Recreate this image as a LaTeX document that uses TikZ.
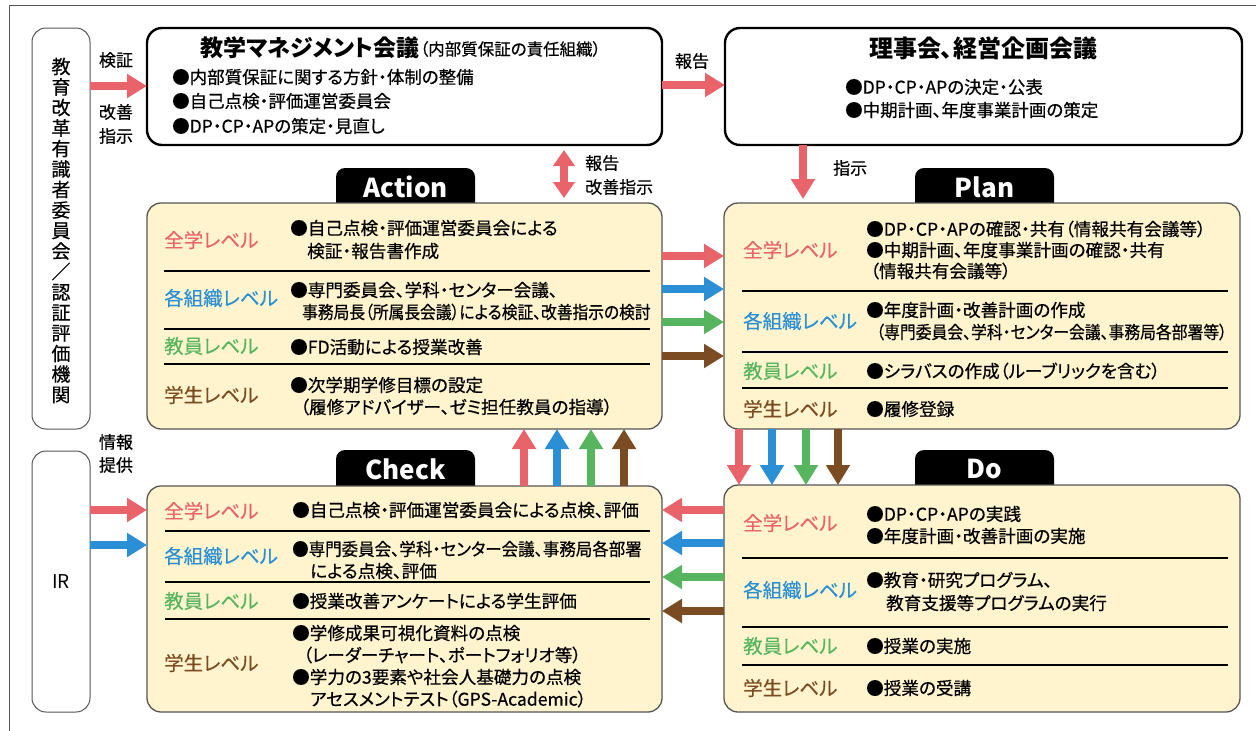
\documentclass[tikz,border=0pt]{standalone}
\usepackage{fontspec}
\setmainfont{Noto Sans CJK JP}[RawFeature=+palt]
\newfontfamily\bodyf{Noto Sans CJK JP}[RawFeature=+palt, FakeBold=0.5]
\newfontfamily\lvlfam{Noto Sans CJK JP}[RawFeature=+palt, FakeBold=0.3]
\usetikzlibrary{arrows.meta}
\definecolor{redc}{HTML}{E9636B}
\definecolor{bluec}{HTML}{2A8FD4}
\definecolor{greenc}{HTML}{57B560}
\definecolor{brownc}{HTML}{7B4B22}
\definecolor{yel}{HTML}{FFF4CE}
\definecolor{frame}{HTML}{555555}
\newcommand{\txtf}{\bodyf\fontsize{17.6}{21}\selectfont}
\newcommand{\topf}{\bodyf\fontsize{17.5}{21}\selectfont}
\newcommand{\lvlf}{\lvlfam\fontsize{19.5}{22}\selectfont}
\newcommand{\ttlf}{\fontsize{23}{26}\selectfont\bfseries}
\newcommand{\sq}[2]{\scalebox{#1}[1]{#2}}
\tikzset{
  txt/.style={font=\txtf, anchor=west, inner sep=0pt},
  toptxt/.style={font=\topf, anchor=west, inner sep=0pt},
  lvl/.style={font=\lvlf, anchor=west, inner sep=0pt},
  ybox/.style={draw=frame, fill=yel, rounded corners=14pt, line width=1.3pt, inner sep=0pt, outer sep=0pt, anchor=north west},
  wbox/.style={draw=black, fill=white, rounded corners=15pt, line width=2.4pt, inner sep=0pt, outer sep=0pt, anchor=north west},
  gbox/.style={draw=frame, fill=white, rounded corners=14pt, line width=1pt, inner sep=0pt, outer sep=0pt, anchor=north west},
  tabbox/.style={fill=black, rounded corners=9pt, inner sep=0pt, outer sep=0pt, anchor=north west, minimum width=139pt, minimum height=45pt},
  tabtxt/.style={text=white, font=\fontsize{26}{28}\selectfont\bfseries, inner sep=0pt},
  fat/.style={line width=8pt, -{Triangle[length=20pt,width=23pt]}},
  fatboth/.style={line width=8pt, {Triangle[length=16pt,width=21pt]}-{Triangle[length=16pt,width=21pt]}},
  sepl/.style={line width=1.6pt, black},
  small/.style={font=\bodyf\fontsize{17}{21}\selectfont, inner sep=0pt},
}
\begin{document}
\begin{tikzpicture}[x=1pt,y=-1pt]
\useasboundingbox (0,0) rectangle (1256,731);
% outer frame
\draw[frame, line width=1pt] (9,731) -- (9,5) -- (1256,5);

% left boxes
\node[gbox, minimum width=58pt, minimum height=401pt] (kaikaku) at (32,28) {};
\node[font=\bodyf\fontsize{19}{20.5}\selectfont, align=center, inner sep=0pt] (kaikakut) at ([yshift=-2pt]kaikaku.center) {教\\育\\改\\革\\有\\識\\者\\委\\員\\会\\／\\認\\証\\評\\価\\機\\関};
\node[gbox, minimum width=58pt, minimum height=261pt] (ir) at (32,451) {};
\node[font=\fontsize{19}{20}\selectfont, inner sep=0pt] (irt) at (ir.center) {IR};

% top boxes
\node[wbox, minimum width=515pt, minimum height=117pt] (mg) at (147,28) {};
\node[font=\ttlf, anchor=west, inner sep=0pt] (mgt) at (200,48) {教学マネジメント会議};
\node[font=\bodyf\fontsize{16.5}{18}\selectfont, anchor=west, inner sep=0pt] (mgs) at ([yshift=-1pt]mgt.east) {（内部質保証の責任組織）};
\node[toptxt] (mg1) at (172,77) {●内部質保証に関する方針・体制の整備};
\node[toptxt] (mg2) at (172,101) {●自己点検・評価運営委員会};
\node[toptxt] (mg3) at (172,126) {●DP・CP・APの策定・見直し};

\node[wbox, minimum width=517pt, minimum height=117pt] (bd) at (725,28) {};
\node[font=\fontsize{24}{27}\selectfont\bfseries, inner sep=0pt] (bdt) at (983,48) {理事会、経営企画会議};
\node[toptxt] (bd1) at (845,87) {●DP・CP・APの決定・公表};
\node[toptxt] (bd2) at (845,110) {●中期計画、年度事業計画の策定};

% top arrows
\draw[fat, redc] (kaikaku.east|-0,86) -- (mg.west|-0,86);
\node[small] (l1) at (116,60) {検証};
\node[small, align=center, font=\bodyf\fontsize{17}{24}\selectfont] (l2) at (116,124) {改善\\指示};
\draw[fat, redc] (mg.east|-0,85) -- (bd.west|-0,85);
\node[small] (l3) at (692,61) {報告};
\draw[fatboth, redc] (mg.south-|564,0) ++(0,5) coordinate (da) -- (564,198) coordinate (db);
\node[small, anchor=west] (l4) at (585,163) {報告};
\node[small, anchor=west] (l5) at (585,187) {改善指示};
\draw[fat, redc] (bd.south-|803,0) -- (803,199) coordinate (pd);
\node[small, anchor=west] (l6) at (833,168) {指示};

% tabs
\node[tabbox] (acttab) at (336,168) {};
\node[tabbox] (plantab) at (915,168) {};
\node[tabbox] (chktab) at (336,450) {};
\node[tabbox] (dotab) at (915,450) {};
\node[tabtxt] at (405.5,187) {Action};
\node[tabtxt] at (984.5,187) {Plan};
\node[tabtxt] at (405.5,469) {Check};
\node[tabtxt] at (984.5,469) {Do};

% main boxes
\node[ybox, minimum width=515pt, minimum height=226pt] (act) at (147,203) {};
\node[ybox, minimum width=516pt, minimum height=226pt] (plan) at (724,203) {};
\node[ybox, minimum width=515pt, minimum height=226pt] (chk) at (147,486) {};
\node[ybox, minimum width=516pt, minimum height=227pt] (do) at (724,485) {};

% Action content
\node[lvl, text=redc] at (164,240) {全学レベル};
\node[lvl, text=bluec] at (164,298) {各組織レベル};
\node[lvl, text=greenc] at (164,346) {教員レベル};
\node[lvl, text=brownc] at (164,395) {学生レベル};
\draw[sepl] (164,271) -- (650,271);
\draw[sepl] (164,329) -- (650,329);
\draw[sepl] (164,364) -- (650,364);
\node[txt] at (290,228) {●自己点検・評価運営委員会による};
\node[txt] at (307,251) {検証・報告書作成};
\node[txt] at (290,290) {●専門委員会、学科・センター会議、};
\node[txt] at (302,312) {\sq{0.893}{事務局長（所属長会議）による検証、改善指示の検討}};
\node[txt] at (290,347) {●FD活動による授業改善};
\node[txt] at (290,385) {●次学期学修目標の設定};
\node[txt] at (300,407) {（履修アドバイザー、ゼミ担任教員の指導）};

% Plan content
\node[lvl, text=redc] at (743,250) {全学レベル};
\node[lvl, text=bluec] at (743,321) {各組織レベル};
\node[lvl, text=greenc] at (743,371) {教員レベル};
\node[lvl, text=brownc] at (743,409) {学生レベル};
\draw[sepl] (742,291) -- (1228,291);
\draw[sepl] (742,352) -- (1228,352);
\draw[sepl] (742,388) -- (1228,388);
\node[txt] at (866,229) {●DP・CP・APの確認・共有（情報共有会議等）};
\node[txt] at (866,250) {●中期計画、年度事業計画の確認・共有};
\node[txt] at (870,271) {（情報共有会議等）};
\node[txt] at (866,310) {●年度計画・改善計画の作成};
\node[txt] at (876,332) {\sq{0.898}{（専門委員会、学科・センター会議、事務局各部署等）}};
\node[txt] at (866,371) {●シラバスの作成（ルーブリックを含む）};
\node[txt] at (866,409) {●履修登録};

% Check content
\node[lvl, text=redc] at (164,511) {全学レベル};
\node[lvl, text=bluec] at (164,556) {各組織レベル};
\node[lvl, text=greenc] at (164,601) {教員レベル};
\node[lvl, text=brownc] at (164,663) {学生レベル};
\draw[sepl] (165,531) -- (650,531);
\draw[sepl] (165,582) -- (650,582);
\draw[sepl] (165,619) -- (650,619);
\node[txt] at (292,510) {●自己点検・評価運営委員会による点検、評価};
\node[txt] at (292,549) {\sq{0.937}{●専門委員会、学科・センター会議、事務局各部署}};
\node[txt] at (310,571) {による点検、評価};
\node[txt] at (292,601) {●授業改善アンケートによる学生評価};
\node[txt] at (292,633) {●学修成果可視化資料の点検};
\node[txt] at (303,655) {（レーダーチャート、ポートフォリオ等）};
\node[txt] at (292,677) {●学力の3要素や社会人基礎力の点検};
\node[txt] at (310,699) {アセスメントテスト（GPS-Academic）};

% Do content
\node[lvl, text=redc] at (743,523) {全学レベル};
\node[lvl, text=bluec] at (743,590) {各組織レベル};
\node[lvl, text=greenc] at (743,646) {教員レベル};
\node[lvl, text=brownc] at (743,688) {学生レベル};
\draw[sepl] (742,558) -- (1228,558);
\draw[sepl] (742,627) -- (1228,627);
\draw[sepl] (742,665) -- (1228,665);
\node[txt] at (866,514) {●DP・CP・APの実践};
\node[txt] at (866,536) {●年度計画・改善計画の実施};
\node[txt] at (866,580) {●教育・研究プログラム、};
\node[txt] at (886,603) {教育支援等プログラムの実行};
\node[txt] at (866,646) {●授業の実施};
\node[txt] at (866,688) {●授業の受講};

% IR arrows
\node[small] (l7) at (116,442) {情報};
\node[small] (l8) at (116,465) {提供};
\draw[fat, redc] (ir.east|-0,510) -- (chk.west|-0,510);
\draw[fat, bluec] (ir.east|-0,545) -- (chk.west|-0,545);

% Action -> Plan
\draw[fat, redc] (act.east|-0,256) -- (plan.west|-0,256);
\draw[fat, bluec] (act.east|-0,289) -- (plan.west|-0,289);
\draw[fat, greenc] (act.east|-0,322) -- (plan.west|-0,322);
\draw[fat, brownc] (act.east|-0,356) -- (plan.west|-0,356);
% Plan -> Do
\draw[fat, redc] (plan.south-|739,0) -- (do.north-|739,0);
\draw[fat, bluec] (plan.south-|772,0) -- (do.north-|772,0);
\draw[fat, greenc] (plan.south-|806,0) -- (do.north-|806,0);
\draw[fat, brownc] (plan.south-|838,0) -- (do.north-|838,0);
% Do -> Check
\draw[fat, redc] (do.west|-0,510) -- (chk.east|-0,510);
\draw[fat, bluec] (do.west|-0,543) -- (chk.east|-0,543);
\draw[fat, greenc] (do.west|-0,577) -- (chk.east|-0,577);
\draw[fat, brownc] (do.west|-0,611) -- (chk.east|-0,611);
% Check -> Action
\draw[fat, redc] (chk.north-|524,0) -- (act.south-|524,0);
\draw[fat, bluec] (chk.north-|557,0) -- (act.south-|557,0);
\draw[fat, greenc] (chk.north-|591,0) -- (act.south-|591,0);
\draw[fat, brownc] (chk.north-|624,0) -- (act.south-|624,0);
\end{tikzpicture}
\end{document}
